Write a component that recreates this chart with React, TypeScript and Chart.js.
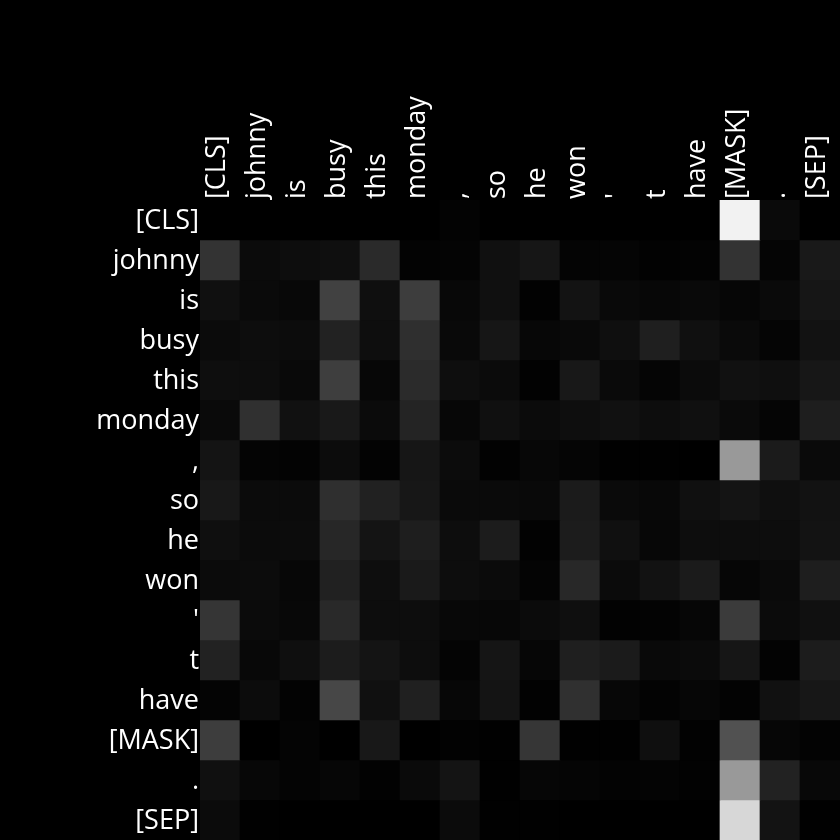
import React, { useEffect, useRef } from "react";
import { Chart, registerables } from "chart.js";

Chart.register(...registerables);

const tokens = ["[CLS]", "johnny", "is", "busy", "this", "monday", ",", "so", "he", "won", "'", "t", "have", "[MASK]", ".", "[SEP]"];

// attention shade per cell (0 = black, 255 = white), one array per query token (row)
const rowCLS = [0, 0, 0, 0, 0, 0, 3, 0, 0, 0, 0, 0, 0, 242, 10, 0];
const rowJohnny = [51, 11, 13, 15, 42, 3, 4, 16, 22, 4, 5, 2, 3, 51, 5, 25];
const rowIs = [16, 10, 8, 65, 15, 61, 8, 16, 2, 19, 9, 7, 9, 6, 10, 22];
const rowBusy = [11, 13, 12, 34, 14, 47, 9, 22, 7, 9, 15, 31, 16, 10, 5, 18];
const rowThis = [14, 13, 9, 62, 7, 43, 14, 11, 2, 24, 10, 5, 11, 17, 15, 23];
const rowMonday = [10, 48, 17, 25, 11, 36, 7, 16, 11, 14, 17, 13, 16, 10, 5, 30];
const rowComma = [20, 4, 3, 12, 3, 22, 12, 2, 7, 5, 1, 1, 0, 153, 27, 10];
const rowSo = [24, 11, 11, 47, 33, 23, 10, 10, 9, 27, 10, 8, 16, 20, 15, 18];
const rowHe = [15, 11, 12, 39, 20, 30, 13, 28, 2, 28, 16, 7, 13, 13, 13, 19];
const rowWon = [11, 12, 7, 33, 14, 26, 13, 11, 4, 40, 11, 18, 27, 6, 10, 30];
const rowApos = [53, 11, 8, 41, 13, 13, 8, 7, 11, 15, 2, 3, 6, 59, 11, 16];
const rowT = [34, 8, 15, 28, 20, 13, 4, 21, 6, 31, 27, 9, 11, 22, 3, 28];
const rowHave = [4, 12, 3, 71, 16, 32, 7, 20, 2, 48, 7, 3, 6, 3, 17, 23];
const rowMask = [61, 0, 4, 0, 24, 0, 2, 1, 54, 1, 1, 15, 2, 81, 6, 3];
const rowPeriod = [16, 7, 4, 6, 2, 10, 20, 1, 6, 5, 3, 4, 2, 153, 34, 8];
const rowSEP = [11, 1, 0, 0, 0, 0, 11, 1, 1, 0, 0, 0, 0, 215, 19, 1];

const attention = [rowCLS, rowJohnny, rowIs, rowBusy, rowThis, rowMonday, rowComma, rowSo, rowHe, rowWon, rowApos, rowT, rowHave, rowMask, rowPeriod, rowSEP];

export default function App() {
  const ref = useRef<HTMLCanvasElement | null>(null);

  useEffect(() => {
    document.body.style.margin = "0";
    document.body.style.background = "#000";
    const canvas = ref.current;
    if (!canvas) return;

    const datasets = attention.map((row, r) => ({
      label: tokens[r],
      data: tokens.map(() => [r, r + 1] as [number, number]),
      backgroundColor: row.map((v) => `rgb(${v},${v},${v})`),
      borderWidth: 0,
      borderSkipped: false as const,
      grouped: false,
      barPercentage: 1,
      categoryPercentage: 1,
      xAxisID: "x",
      yAxisID: "y",
    }));

    const labelFont = { family: "'Open Sans'", size: 27 };

    const chart = new Chart(canvas, {
      type: "bar",
      data: { labels: tokens, datasets: datasets as any },
      options: {
        responsive: false,
        animation: false,
        layout: { padding: 0 },
        plugins: { legend: { display: false }, tooltip: { enabled: false } },
        scales: {
          x: {
            type: "category",
            position: "top",
            offset: true,
            grid: { display: false, drawTicks: false },
            border: { display: false },
            ticks: {
              color: "#ffffff",
              font: labelFont,
              minRotation: 90,
              maxRotation: 90,
              autoSkip: false,
              padding: 1,
              labelOffset: 30,
            },
            afterFit: (s: any) => {
              s.height = 200;
              s.paddingLeft = 0;
              s.paddingRight = 0;
            },
          },
          y: {
            type: "linear",
            display: false,
            min: 0,
            max: tokens.length,
            reverse: true,
          },
          yLabels: {
            type: "category",
            position: "left",
            labels: tokens,
            offset: true,
            grid: { display: false, drawTicks: false },
            border: { display: false },
            ticks: {
              color: "#ffffff",
              font: labelFont,
              autoSkip: false,
              padding: 1,
              labelOffset: 1,
            },
            afterFit: (s: any) => {
              s.width = 200;
              s.paddingTop = 0;
              s.paddingBottom = 0;
            },
          },
        },
      },
    });
    return () => chart.destroy();
  }, []);

  return (
    <div style={{ position: "fixed", left: 0, top: 0, width: 840, height: 840, background: "#000" }}>
      <canvas ref={ref} width={840} height={840} style={{ display: "block", width: 840, height: 840 }} />
    </div>
  );
}
